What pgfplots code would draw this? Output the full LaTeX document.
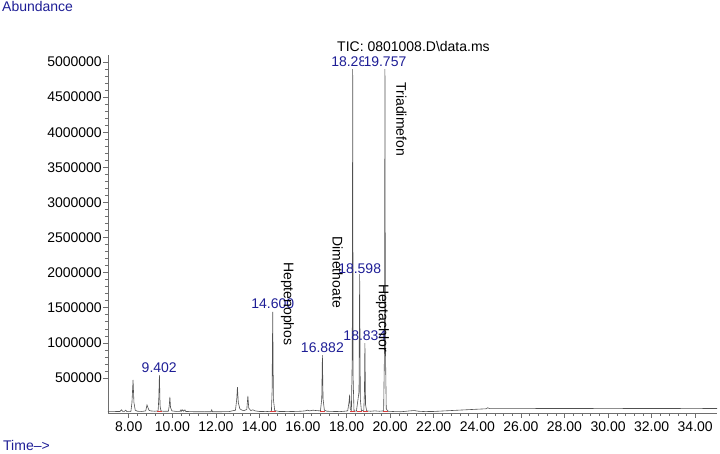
\documentclass[border=0pt]{standalone}
\usepackage{fontspec}
\setmainfont{Liberation Sans}
\usepackage{pgfplots}
\pgfplotsset{compat=1.18}
\definecolor{rtblue}{RGB}{30,30,150}
\definecolor{trace}{RGB}{80,80,80}
\definecolor{axisgray}{RGB}{110,110,110}
\definecolor{intred}{RGB}{220,60,60}
\tikzset{
  txt/.style={font=\fontsize{14}{16}\selectfont, inner sep=0pt},
  rt/.style={txt, rtblue, anchor=base},
  cname/.style={txt, rotate=-90, anchor=west},
}

% TIC trace, time (min) vs abundance
\pgfplotstableread{
t      a
7.05   18000
7.30   20000
7.60   22000
7.67   45000
7.72   25000
7.80   22000
7.86   40000
7.92   20000
8.10   20000
8.15   150000
8.20   470000
8.24   150000
8.30   40000
8.40   25000
8.60   22000
8.78   30000
8.84   114000
8.88   80000
8.93   40000
9.00   30000
9.20   25000
9.35   30000
9.38   200000
9.41   541000
9.44   100000
9.48   30000
9.60   24000
9.82   25000
9.86   100000
9.89   228000
9.92   80000
9.98   30000
10.20  22000
10.37  25000
10.40  45000
10.43  25000
10.48  45000
10.52  25000
10.58  45000
10.62  22000
11.00  18000
11.50  17000
11.78  18000
11.81  45000
11.84  18000
12.20  18000
12.60  20000
12.90  40000
12.96  200000
12.99  370000
13.03  150000
13.10  60000
13.20  40000
13.30  35000
13.42  50000
13.47  242000
13.51  70000
13.60  35000
13.70  45000
13.80  30000
14.00  22000
14.30  20000
14.55  25000
14.58  300000
14.61  1440000
14.64  200000
14.70  35000
14.90  22000
15.30  20000
15.60  22000
15.90  25000
16.10  30000
16.20  40000
16.30  30000
16.45  40000
16.60  35000
16.80  30000
16.86  200000
16.89  826000
16.92  200000
16.98  40000
17.10  25000
17.40  22000
17.70  20000
17.90  25000
18.05  30000
18.11  150000
18.14  260000
18.17  60000
18.22  30000
18.26  800000
18.28  4900000
18.30  500000
18.34  30000
18.45  25000
18.57  300000
18.60  1980000
18.63  200000
18.68  30000
18.79  40000
18.82  300000
18.84  997000
18.87  120000
18.92  30000
19.10  25000
19.30  30000
19.50  25000
19.70  30000
19.74  900000
19.76  4900000
19.78  1000000
19.82  60000
19.90  25000
20.20  20000
20.50  18000
20.90  30000
21.10  35000
21.30  25000
21.60  20000
22.00  22000
22.50  30000
23.00  38000
23.50  46000
24.00  54000
24.40  60000
24.48  75000
24.56  62000
25.00  62000
26.00  63000
28.00  64000
30.00  63000
32.00  64000
34.00  63000
35.00  64000
}\tic

\begin{document}
\begin{tikzpicture}
\useasboundingbox (-108pt,-41pt) rectangle (612pt,413pt);
\begin{axis}[
  scale only axis, width=609pt, height=358pt,
  xmin=7.05, xmax=35.0, ymin=0, ymax=5100000,
  axis x line*=bottom, axis y line*=left,
  axis line style={axisgray, line width=0.6pt},
  tick align=outside, tick style={axisgray, line width=0.5pt},
  major tick length=5pt, minor tick length=3pt,
  xtick={8,10,12,14,16,18,20,22,24,26,28,30,32,34}, minor x tick num=4,
  ytick={500000,1000000,1500000,2000000,2500000,3000000,3500000,4000000,4500000,5000000},
  minor y tick num=4,
  scaled y ticks=false,
  xticklabel style={/pgf/number format/.cd, fixed, fixed zerofill, precision=2, assume math mode=true},
  yticklabel style={inner sep=1pt, /pgf/number format/.cd, fixed, 1000 sep={}, assume math mode=true},
  tick label style={font=\fontsize{14}{16}\selectfont, black},
  clip=false,
]
\addplot[trace, line width=0.6pt] table[x=t, y=a] {\tic};
% integration start/end marks
\addplot[only marks, mark=-, mark size=1.5pt, intred, mark options={line width=0.8pt}] coordinates {
  (9.36,25000) (9.47,25000) (14.56,22000) (14.68,22000) (16.84,25000) (16.96,25000)
  (18.24,25000) (18.33,25000) (18.55,25000) (18.66,25000) (18.80,25000) (18.90,25000)
  (19.72,25000) (19.84,25000)
};

% retention time labels
\node[rt] at (axis cs:9.402,541000) [yshift=3pt] {9.402};
\node[rt] at (axis cs:14.61,1440000) [yshift=3pt] {14.600};
\node[rt] at (axis cs:16.89,826000) [yshift=3pt] {16.882};
\node[rt] at (axis cs:18.28,4900000) [yshift=3pt] {18.283};
\node[rt, fill=white] at (axis cs:19.76,4900000) [yshift=3pt] {19.757};
\node[rt] at (axis cs:18.60,1980000) [yshift=1pt] {18.598};
\node[rt] at (axis cs:18.84,997000) [yshift=3pt] {18.834};

% compound names
\node[cname] at (axis cs:15.29,2150000) {Heptenophos};
\node[cname] at (axis cs:17.59,2520000) {Dimethoate};
\node[cname] at (axis cs:19.65,1840000) {Heptachlor};
\node[cname] at (axis cs:20.52,4710000) {Triadimefon};

\node[txt, anchor=base] at (axis cs:21.07,5100000) [yshift=3pt] {TIC: 0801008.D\textbackslash data.ms};
\end{axis}
\node[txt, rtblue, anchor=base west] at (-106pt,401pt) {Abundance};
\node[txt, rtblue, anchor=base west] at (-105pt,-38pt) {Time-->};
\end{tikzpicture}
\end{document}
